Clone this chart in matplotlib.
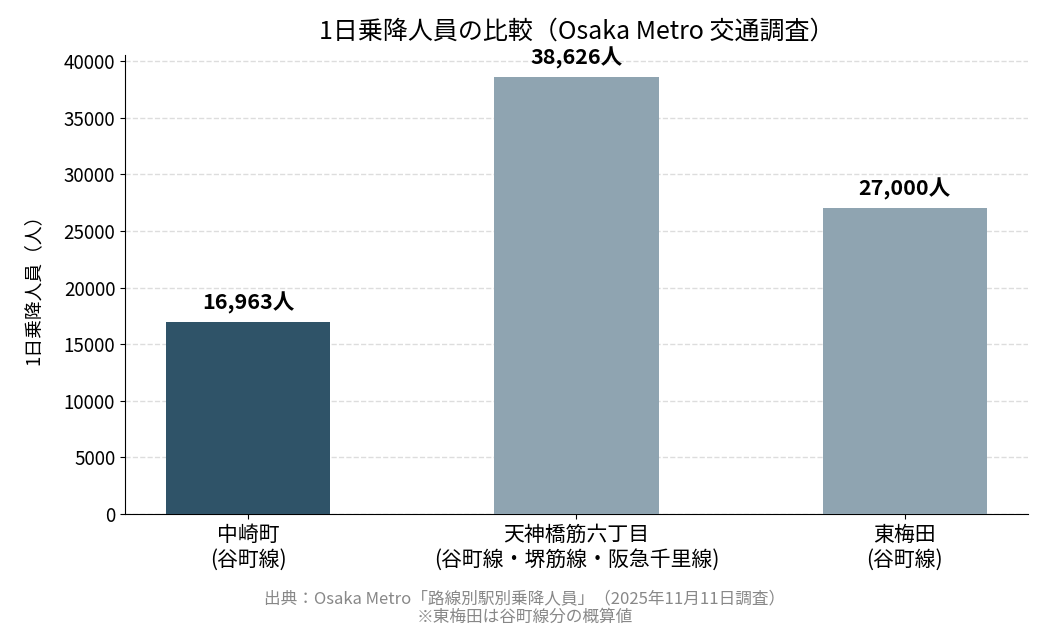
import numpy as np
import matplotlib
matplotlib.use("Agg")
import matplotlib.pyplot as plt

plt.rcParams['font.family'] = ['Noto Sans CJK JP', 'DejaVu Sans']

""" DONNEES """
stations = ['中崎町\n(谷町線)', '天神橋筋六丁目\n(谷町線・堺筋線・阪急千里線)', '東梅田\n(谷町線)']
riders   = [16963, 38626, 27000]
colors   = ['#2f5368', '#8fa4b1', '#8fa4b1']

""" TRACE """
fig, ax = plt.subplots(figsize=(10.5, 6.3), dpi=100)
x = np.arange(len(stations))
bars = ax.bar(x, riders, width=0.5, color=colors, zorder=3)

for b, v in zip(bars, riders):
    ax.text(b.get_x() + b.get_width()/2, v + 700, f'{v:,}人',
            ha='center', va='bottom', fontsize=15.5, fontweight='bold')

ax.set_xticks(x)
ax.set_xticklabels(stations, fontsize=15, linespacing=1.15)
ax.tick_params(axis='y', labelsize=13.5)
ax.set_ylim(0, max(riders)*1.05)
ax.set_ylabel('1日乗降人員（人）', fontsize=13.5, labelpad=14)
ax.set_title('1日乗降人員の比較（Osaka Metro 交通調査）', fontsize=18, pad=12)
ax.grid(axis='y', linestyle='--', color='#dddddd', linewidth=1, zorder=0)
ax.spines['top'].set_visible(False)
ax.spines['right'].set_visible(False)

fig.text(0.5, 0.006, '出典：Osaka Metro「路線別駅別乗降人員」（2025年11月11日調査）\n※東梅田は谷町線分の概算値',
         ha='center', va='bottom', fontsize=12, color='#888888', linespacing=1.1)

plt.subplots_adjust(left=0.119, right=0.979, top=0.913, bottom=0.184)
fig.savefig('out.png', dpi=100)
